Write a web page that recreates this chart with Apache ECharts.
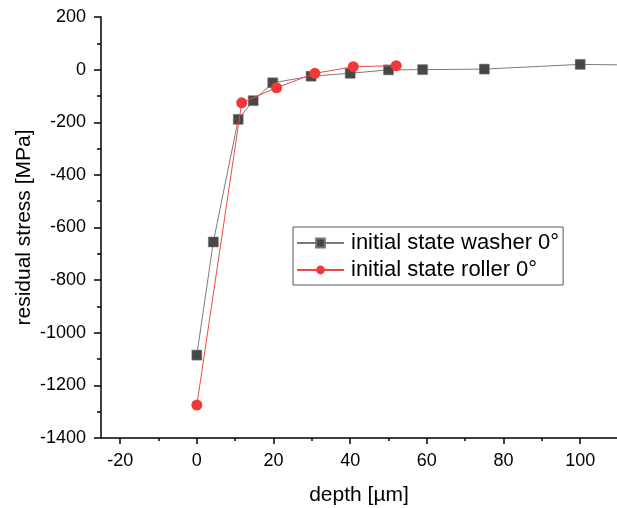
<!DOCTYPE html>
<html>
<head>
<meta charset="utf-8">
<script src="https://cdn.jsdelivr.net/npm/echarts@6/dist/echarts.min.js"></script>
<style>
  html, body { margin: 0; padding: 0; background: #fff; }
  #chart { width: 617px; height: 508px; }
</style>
</head>
<body>
<div id="chart"></div>
<script>
// depth [µm] / residual stress [MPa]
const washerDepth = [0, 4.3, 10.8, 14.7, 19.8, 29.8, 40, 50, 58.9, 75, 100, 125];
const washerStress = [-1085, -655, -189, -118, -50, -25, -14, -1, 0, 2, 20, 15];
const rollerDepth = [0, 11.7, 20.8, 30.8, 40.8, 52];
const rollerStress = [-1275, -126, -69, -14, 11, 15];

const xMajor = [-20, 0, 20, 40, 60, 80, 100];
const xMinor = [-10, 10, 30, 50, 70, 90];

const font = 'Liberation Sans, Arial, sans-serif';
const tickFont = 'Liberation Sans Narrow, Liberation Sans, Arial, sans-serif';

const chart = echarts.init(document.getElementById('chart'));

function pairs(xs, ys) {
  return xs.map((x, i) => [x, ys[i]]);
}

const axisLine = { show: true, onZero: false, lineStyle: { color: '#000', width: 1.5 } };
const tickStyle = { color: '#000', width: 1.5 };

let option = {
  backgroundColor: '#fff',
  animation: false,
  grid: { left: 101, right: 0, top: 17, bottom: 70, outerBoundsMode: 'none', containLabel: false },
  legend: {
    orient: 'vertical',
    left: 293,
    top: 227,
    itemWidth: 47,
    itemHeight: 11,
    itemGap: 5,
    padding: [5, 4, 4, 3],
    borderColor: '#555',
    borderWidth: 1,
    textStyle: { fontFamily: font, fontSize: 22, color: '#000', padding: [0, 0, 0, 2] },
    data: ['initial state washer 0°', 'initial state roller 0°']
  },
  xAxis: [
    {
      type: 'value',
      min: -25,
      max: 109.6,
      name: 'depth [µm]',
      nameLocation: 'middle',
      nameGap: 47,
      nameMoveOverlap: false,
      nameTextStyle: { fontFamily: font, fontSize: 21, color: '#000' },
      axisLine: axisLine,
      axisTick: { show: true, length: 6, customValues: xMajor, lineStyle: tickStyle },
      axisLabel: { customValues: xMajor, fontFamily: tickFont, fontSize: 18, color: '#000', margin: 14 },
      splitLine: { show: false }
    },
    {
      type: 'value',
      position: 'bottom',
      min: -25,
      max: 109.6,
      axisLine: { show: false, onZero: false },
      axisTick: { show: true, length: 3, customValues: xMinor, lineStyle: tickStyle },
      axisLabel: { show: false },
      splitLine: { show: false }
    }
  ],
  yAxis: {
    type: 'value',
    min: -1400,
    max: 200,
    interval: 200,
    name: 'residual stress [MPa]',
    nameLocation: 'middle',
    nameGap: 66,
    nameMoveOverlap: false,
    nameTextStyle: { fontFamily: font, fontSize: 21, color: '#000' },
    axisLine: axisLine,
    axisTick: { show: true, length: 7, lineStyle: tickStyle },
    minorTick: { show: true, splitNumber: 2, length: 4, lineStyle: tickStyle },
    axisLabel: {
      fontFamily: tickFont, fontSize: 18, color: '#000', margin: 15,
      formatter: function (v) { return String(v); }
    },
    splitLine: { show: false }
  },
  series: [
    {
      name: 'initial state washer 0°',
      type: 'line',
      data: pairs(washerDepth, washerStress),
      symbol: 'rect',
      symbolSize: 10,
      lineStyle: { color: '#7a7a7a', width: 1 },
      itemStyle: { color: '#474747', borderColor: '#777', borderWidth: 0.5 },
      z: 2
    },
    {
      name: 'initial state roller 0°',
      type: 'line',
      data: pairs(rollerDepth, rollerStress),
      symbol: 'circle',
      symbolSize: 11,
      lineStyle: { color: '#f04848', width: 1 },
      itemStyle: { color: '#f03838' },
      z: 3
    }
  ]
};

option && chart.setOption(option);
</script>
</body>
</html>
